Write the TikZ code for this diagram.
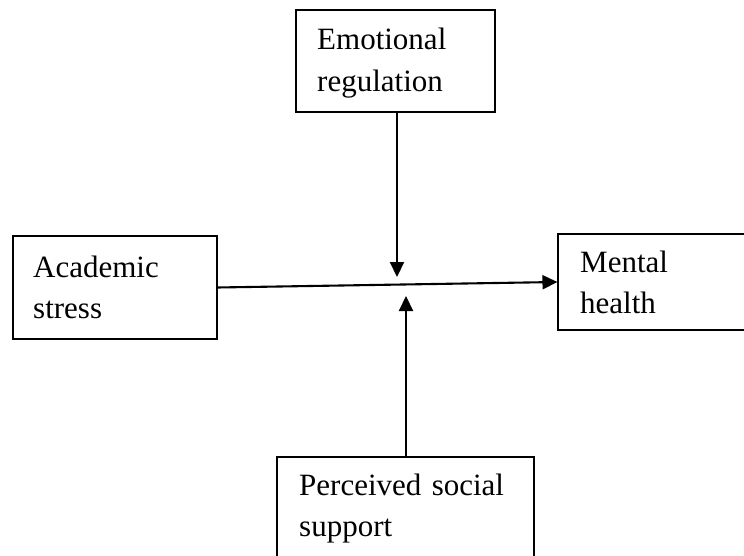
\documentclass[tikz,border=0pt]{standalone}
\usepackage{fontspec}
\setmainfont{Liberation Serif}
\usetikzlibrary{arrows.meta,calc}
\begin{document}
\begin{tikzpicture}[x=1pt,y=-1pt,
  boxshape/.style={draw=black,line width=1.1pt,rectangle,inner sep=0pt},
  lbl/.style={inner sep=0pt,anchor=base west,text width=260pt,align=left,
    font=\fontsize{31}{41.5}\selectfont},
  conn/.style={line width=2.1pt,-{Triangle[length=15pt,width=14pt]}}]
\useasboundingbox (0,0) rectangle (744,556);
\clip (0,0) rectangle (744,556);
\node[boxshape,minimum width=199pt,minimum height=102pt] (emo) at (395.5,61) {};
\node[boxshape,minimum width=204pt,minimum height=103pt] (aca) at (115,287.5) {};
\node[boxshape,minimum width=202pt,minimum height=96pt] (men) at (659,282) {};
\node[boxshape,minimum width=257pt,minimum height=113pt] (per) at (405.5,513.5) {};
\node[lbl] (emot) at (317,50) {Emotional\\regulation};
\node[lbl] (acat) at (33,277) {Academic\\stress};
\node[lbl] (ment) at (580,272) {Mental\\health};
\node[lbl] (pert) at (299,495) {Perceived social\\support};
\coordinate (dtip) at (397,277);
\coordinate (utip) at (406,296);
\draw[conn] (aca.east) -- (men.west);
\draw[conn] (emo.south -| dtip) -- (dtip);
\draw[conn] (per.north -| utip) -- (utip);
\end{tikzpicture}
\end{document}
